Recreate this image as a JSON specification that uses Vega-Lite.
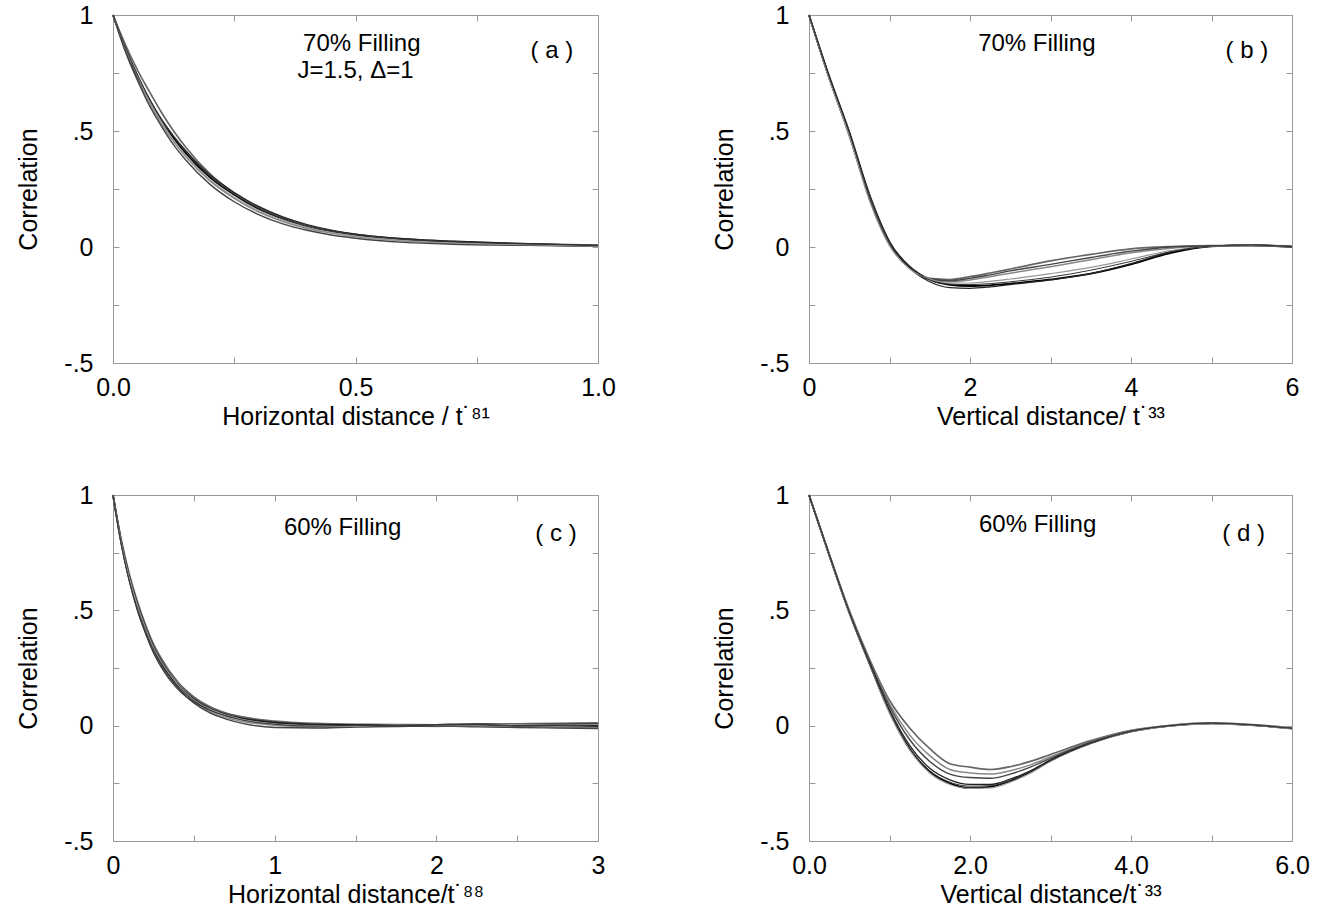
{
"$schema":"https://vega.github.io/schema/vega-lite/v6.json",
"padding":{"left":16,"top":2,"right":10,"bottom":5},
"background":"white",
"spacing":52,
"config":{
 "font":"Liberation Sans",
 "view":{"stroke":"#999","strokeWidth":1},
 "axis":{"domain":false,"grid":false,"ticks":true,"tickSize":-6,"tickColor":"#999","labelColor":"#000","labelFontSize":25,"labelFont":"Liberation Sans","titleFont":"Liberation Sans","titleFontSize":25,"titleFontWeight":"normal","titleColor":"#000","labelFlush":false,"labelOverlap":false},
 "axisY":{"labelPadding":26,"titlePadding":22},
 "axisX":{"labelPadding":18,"titlePadding":4},
 "text":{"font":"Liberation Sans","fontSize":24,"color":"#000"}
},
"datasets":{
"a":[
{"s":1,"x":0,"y":1},{"s":1,"x":0.025,"y":0.86},{"s":1,"x":0.05,"y":0.74},{"s":1,"x":0.075,"y":0.635},{"s":1,"x":0.1,"y":0.545},{"s":1,"x":0.125,"y":0.47},{"s":1,"x":0.15,"y":0.405},{"s":1,"x":0.2,"y":0.3},{"s":1,"x":0.25,"y":0.225},{"s":1,"x":0.3,"y":0.165},{"s":1,"x":0.35,"y":0.122},{"s":1,"x":0.4,"y":0.09},{"s":1,"x":0.45,"y":0.068},{"s":1,"x":0.5,"y":0.052},{"s":1,"x":0.6,"y":0.032},{"s":1,"x":0.7,"y":0.022},{"s":1,"x":0.8,"y":0.015},{"s":1,"x":0.9,"y":0.01},{"s":1,"x":1.0,"y":0.005},
{"s":2,"x":0,"y":1},{"s":2,"x":0.025,"y":0.875},{"s":2,"x":0.05,"y":0.765},{"s":2,"x":0.075,"y":0.67},{"s":2,"x":0.1,"y":0.58},{"s":2,"x":0.125,"y":0.5},{"s":2,"x":0.15,"y":0.43},{"s":2,"x":0.2,"y":0.315},{"s":2,"x":0.25,"y":0.232},{"s":2,"x":0.3,"y":0.17},{"s":2,"x":0.35,"y":0.125},{"s":2,"x":0.4,"y":0.092},{"s":2,"x":0.45,"y":0.07},{"s":2,"x":0.5,"y":0.055},{"s":2,"x":0.6,"y":0.035},{"s":2,"x":0.7,"y":0.024},{"s":2,"x":0.8,"y":0.017},{"s":2,"x":0.9,"y":0.012},{"s":2,"x":1.0,"y":0.008},
{"s":3,"x":0,"y":1},{"s":3,"x":0.025,"y":0.85},{"s":3,"x":0.05,"y":0.725},{"s":3,"x":0.075,"y":0.62},{"s":3,"x":0.1,"y":0.53},{"s":3,"x":0.125,"y":0.455},{"s":3,"x":0.15,"y":0.39},{"s":3,"x":0.2,"y":0.285},{"s":3,"x":0.25,"y":0.21},{"s":3,"x":0.3,"y":0.152},{"s":3,"x":0.35,"y":0.11},{"s":3,"x":0.4,"y":0.08},{"s":3,"x":0.45,"y":0.06},{"s":3,"x":0.5,"y":0.045},{"s":3,"x":0.6,"y":0.026},{"s":3,"x":0.7,"y":0.016},{"s":3,"x":0.8,"y":0.01},{"s":3,"x":0.9,"y":0.007},{"s":3,"x":1.0,"y":0.004},
{"s":4,"x":0,"y":1},{"s":4,"x":0.025,"y":0.845},{"s":4,"x":0.05,"y":0.72},{"s":4,"x":0.075,"y":0.61},{"s":4,"x":0.1,"y":0.52},{"s":4,"x":0.125,"y":0.44},{"s":4,"x":0.15,"y":0.375},{"s":4,"x":0.2,"y":0.27},{"s":4,"x":0.25,"y":0.195},{"s":4,"x":0.3,"y":0.14},{"s":4,"x":0.35,"y":0.1},{"s":4,"x":0.4,"y":0.072},{"s":4,"x":0.45,"y":0.052},{"s":4,"x":0.5,"y":0.038},{"s":4,"x":0.6,"y":0.02},{"s":4,"x":0.7,"y":0.012},{"s":4,"x":0.8,"y":0.008},{"s":4,"x":0.9,"y":0.006},{"s":4,"x":1.0,"y":0.003},
{"s":5,"x":0,"y":1},{"s":5,"x":0.025,"y":0.855},{"s":5,"x":0.05,"y":0.735},{"s":5,"x":0.075,"y":0.635},{"s":5,"x":0.1,"y":0.55},{"s":5,"x":0.125,"y":0.478},{"s":5,"x":0.15,"y":0.415},{"s":5,"x":0.2,"y":0.31},{"s":5,"x":0.25,"y":0.235},{"s":5,"x":0.3,"y":0.175},{"s":5,"x":0.35,"y":0.13},{"s":5,"x":0.4,"y":0.097},{"s":5,"x":0.45,"y":0.073},{"s":5,"x":0.5,"y":0.056},{"s":5,"x":0.6,"y":0.036},{"s":5,"x":0.7,"y":0.025},{"s":5,"x":0.8,"y":0.018},{"s":5,"x":0.9,"y":0.012},{"s":5,"x":1.0,"y":0.007},
{"s":6,"x":0,"y":1},{"s":6,"x":0.025,"y":0.86},{"s":6,"x":0.05,"y":0.74},{"s":6,"x":0.075,"y":0.63},{"s":6,"x":0.1,"y":0.54},{"s":6,"x":0.125,"y":0.46},{"s":6,"x":0.15,"y":0.395},{"s":6,"x":0.2,"y":0.29},{"s":6,"x":0.25,"y":0.215},{"s":6,"x":0.3,"y":0.158},{"s":6,"x":0.35,"y":0.115},{"s":6,"x":0.4,"y":0.084},{"s":6,"x":0.45,"y":0.062},{"s":6,"x":0.5,"y":0.047},{"s":6,"x":0.6,"y":0.028},{"s":6,"x":0.7,"y":0.018},{"s":6,"x":0.8,"y":0.012},{"s":6,"x":0.9,"y":0.008},{"s":6,"x":1.0,"y":0.003},
{"s":7,"x":0,"y":1},{"s":7,"x":0.025,"y":0.865},{"s":7,"x":0.05,"y":0.745},{"s":7,"x":0.075,"y":0.64},{"s":7,"x":0.1,"y":0.55},{"s":7,"x":0.125,"y":0.475},{"s":7,"x":0.15,"y":0.41},{"s":7,"x":0.2,"y":0.305},{"s":7,"x":0.25,"y":0.228},{"s":7,"x":0.3,"y":0.168},{"s":7,"x":0.35,"y":0.124},{"s":7,"x":0.4,"y":0.092},{"s":7,"x":0.45,"y":0.07},{"s":7,"x":0.5,"y":0.054},{"s":7,"x":0.6,"y":0.034},{"s":7,"x":0.7,"y":0.023},{"s":7,"x":0.8,"y":0.016},{"s":7,"x":0.9,"y":0.011},{"s":7,"x":1.0,"y":0.006}
],
"b":[
{"s":1,"x":0,"y":1},{"s":1,"x":0.25,"y":0.73},{"s":1,"x":0.5,"y":0.49},{"s":1,"x":0.75,"y":0.22},{"s":1,"x":1,"y":0.02},{"s":1,"x":1.25,"y":-0.085},{"s":1,"x":1.5,"y":-0.14},{"s":1,"x":1.75,"y":-0.163},{"s":1,"x":2,"y":-0.168},{"s":1,"x":2.25,"y":-0.165},{"s":1,"x":2.5,"y":-0.158},{"s":1,"x":3,"y":-0.14},{"s":1,"x":3.5,"y":-0.115},{"s":1,"x":4,"y":-0.075},{"s":1,"x":4.5,"y":-0.025},{"s":1,"x":5,"y":0.003},{"s":1,"x":5.5,"y":0.008},{"s":1,"x":6,"y":0.002},
{"s":2,"x":0,"y":1},{"s":2,"x":0.25,"y":0.73},{"s":2,"x":0.5,"y":0.48},{"s":2,"x":0.75,"y":0.21},{"s":2,"x":1,"y":0.01},{"s":2,"x":1.25,"y":-0.09},{"s":2,"x":1.5,"y":-0.135},{"s":2,"x":1.75,"y":-0.14},{"s":2,"x":2,"y":-0.128},{"s":2,"x":2.25,"y":-0.112},{"s":2,"x":2.5,"y":-0.095},{"s":2,"x":3,"y":-0.06},{"s":2,"x":3.5,"y":-0.032},{"s":2,"x":4,"y":-0.008},{"s":2,"x":4.5,"y":0.002},{"s":2,"x":5,"y":0.006},{"s":2,"x":5.5,"y":0.006},{"s":2,"x":6,"y":0},
{"s":3,"x":0,"y":1},{"s":3,"x":0.25,"y":0.735},{"s":3,"x":0.5,"y":0.49},{"s":3,"x":0.75,"y":0.215},{"s":3,"x":1,"y":0.015},{"s":3,"x":1.25,"y":-0.09},{"s":3,"x":1.5,"y":-0.14},{"s":3,"x":1.75,"y":-0.15},{"s":3,"x":2,"y":-0.142},{"s":3,"x":2.25,"y":-0.128},{"s":3,"x":2.5,"y":-0.113},{"s":3,"x":3,"y":-0.085},{"s":3,"x":3.5,"y":-0.055},{"s":3,"x":4,"y":-0.025},{"s":3,"x":4.5,"y":-0.005},{"s":3,"x":5,"y":0.004},{"s":3,"x":5.5,"y":0.007},{"s":3,"x":6,"y":0.001},
{"s":4,"x":0,"y":1},{"s":4,"x":0.25,"y":0.73},{"s":4,"x":0.5,"y":0.485},{"s":4,"x":0.75,"y":0.21},{"s":4,"x":1,"y":0.012},{"s":4,"x":1.25,"y":-0.088},{"s":4,"x":1.5,"y":-0.138},{"s":4,"x":1.75,"y":-0.145},{"s":4,"x":2,"y":-0.135},{"s":4,"x":2.25,"y":-0.12},{"s":4,"x":2.5,"y":-0.103},{"s":4,"x":3,"y":-0.075},{"s":4,"x":3.5,"y":-0.045},{"s":4,"x":4,"y":-0.018},{"s":4,"x":4.5,"y":0},{"s":4,"x":5,"y":0.005},{"s":4,"x":5.5,"y":0.006},{"s":4,"x":6,"y":0},
{"s":5,"x":0,"y":1},{"s":5,"x":0.25,"y":0.74},{"s":5,"x":0.5,"y":0.5},{"s":5,"x":0.75,"y":0.23},{"s":5,"x":1,"y":0.025},{"s":5,"x":1.25,"y":-0.09},{"s":5,"x":1.5,"y":-0.15},{"s":5,"x":1.75,"y":-0.175},{"s":5,"x":2,"y":-0.178},{"s":5,"x":2.25,"y":-0.172},{"s":5,"x":2.5,"y":-0.162},{"s":5,"x":3,"y":-0.142},{"s":5,"x":3.5,"y":-0.115},{"s":5,"x":4,"y":-0.072},{"s":5,"x":4.5,"y":-0.02},{"s":5,"x":5,"y":0.004},{"s":5,"x":5.5,"y":0.008},{"s":5,"x":6,"y":0.003},
{"s":6,"x":0,"y":1},{"s":6,"x":0.25,"y":0.725},{"s":6,"x":0.5,"y":0.48},{"s":6,"x":0.75,"y":0.2},{"s":6,"x":1,"y":0.005},{"s":6,"x":1.25,"y":-0.095},{"s":6,"x":1.5,"y":-0.138},{"s":6,"x":1.75,"y":-0.155},{"s":6,"x":2,"y":-0.155},{"s":6,"x":2.25,"y":-0.148},{"s":6,"x":2.5,"y":-0.138},{"s":6,"x":3,"y":-0.115},{"s":6,"x":3.5,"y":-0.088},{"s":6,"x":4,"y":-0.052},{"s":6,"x":4.5,"y":-0.015},{"s":6,"x":5,"y":0.003},{"s":6,"x":5.5,"y":0.007},{"s":6,"x":6,"y":0.002},
{"s":7,"x":0,"y":1},{"s":7,"x":0.25,"y":0.735},{"s":7,"x":0.5,"y":0.495},{"s":7,"x":0.75,"y":0.225},{"s":7,"x":1,"y":0.02},{"s":7,"x":1.25,"y":-0.085},{"s":7,"x":1.5,"y":-0.142},{"s":7,"x":1.75,"y":-0.16},{"s":7,"x":2,"y":-0.162},{"s":7,"x":2.25,"y":-0.158},{"s":7,"x":2.5,"y":-0.15},{"s":7,"x":3,"y":-0.13},{"s":7,"x":3.5,"y":-0.1},{"s":7,"x":4,"y":-0.062},{"s":7,"x":4.5,"y":-0.02},{"s":7,"x":5,"y":0.004},{"s":7,"x":5.5,"y":0.008},{"s":7,"x":6,"y":0.002}
],
"c":[
{"s":1,"x":0,"y":1},{"s":1,"x":0.05,"y":0.8},{"s":1,"x":0.1,"y":0.64},{"s":1,"x":0.15,"y":0.52},{"s":1,"x":0.2,"y":0.42},{"s":1,"x":0.25,"y":0.335},{"s":1,"x":0.3,"y":0.27},{"s":1,"x":0.4,"y":0.175},{"s":1,"x":0.5,"y":0.11},{"s":1,"x":0.6,"y":0.07},{"s":1,"x":0.7,"y":0.045},{"s":1,"x":0.8,"y":0.03},{"s":1,"x":1,"y":0.012},{"s":1,"x":1.25,"y":0.005},{"s":1,"x":1.5,"y":0.003},{"s":1,"x":1.75,"y":0.002},{"s":1,"x":2,"y":0},{"s":1,"x":2.25,"y":0.003},{"s":1,"x":2.5,"y":0.002},{"s":1,"x":2.75,"y":0.001},{"s":1,"x":3,"y":0},
{"s":2,"x":0,"y":1},{"s":2,"x":0.05,"y":0.81},{"s":2,"x":0.1,"y":0.66},{"s":2,"x":0.15,"y":0.54},{"s":2,"x":0.2,"y":0.44},{"s":2,"x":0.25,"y":0.355},{"s":2,"x":0.3,"y":0.29},{"s":2,"x":0.4,"y":0.19},{"s":2,"x":0.5,"y":0.125},{"s":2,"x":0.6,"y":0.082},{"s":2,"x":0.7,"y":0.055},{"s":2,"x":0.8,"y":0.038},{"s":2,"x":1,"y":0.02},{"s":2,"x":1.25,"y":0.01},{"s":2,"x":1.5,"y":0.006},{"s":2,"x":1.75,"y":0.005},{"s":2,"x":2,"y":0.004},{"s":2,"x":2.25,"y":0.006},{"s":2,"x":2.5,"y":0.008},{"s":2,"x":2.75,"y":0.01},{"s":2,"x":3,"y":0.012},
{"s":3,"x":0,"y":1},{"s":3,"x":0.05,"y":0.79},{"s":3,"x":0.1,"y":0.63},{"s":3,"x":0.15,"y":0.505},{"s":3,"x":0.2,"y":0.405},{"s":3,"x":0.25,"y":0.32},{"s":3,"x":0.3,"y":0.255},{"s":3,"x":0.4,"y":0.16},{"s":3,"x":0.5,"y":0.1},{"s":3,"x":0.6,"y":0.06},{"s":3,"x":0.7,"y":0.035},{"s":3,"x":0.8,"y":0.018},{"s":3,"x":1,"y":0.002},{"s":3,"x":1.25,"y":-0.005},{"s":3,"x":1.5,"y":-0.004},{"s":3,"x":1.75,"y":0},{"s":3,"x":2,"y":-0.003},{"s":3,"x":2.25,"y":0.002},{"s":3,"x":2.5,"y":-0.003},{"s":3,"x":2.75,"y":-0.006},{"s":3,"x":3,"y":-0.008},
{"s":4,"x":0,"y":1},{"s":4,"x":0.05,"y":0.795},{"s":4,"x":0.1,"y":0.635},{"s":4,"x":0.15,"y":0.51},{"s":4,"x":0.2,"y":0.41},{"s":4,"x":0.25,"y":0.325},{"s":4,"x":0.3,"y":0.26},{"s":4,"x":0.4,"y":0.165},{"s":4,"x":0.5,"y":0.098},{"s":4,"x":0.6,"y":0.055},{"s":4,"x":0.7,"y":0.028},{"s":4,"x":0.8,"y":0.01},{"s":4,"x":1,"y":-0.008},{"s":4,"x":1.25,"y":-0.01},{"s":4,"x":1.5,"y":-0.006},{"s":4,"x":1.75,"y":-0.004},{"s":4,"x":2,"y":-0.002},{"s":4,"x":2.25,"y":-0.005},{"s":4,"x":2.5,"y":-0.008},{"s":4,"x":2.75,"y":-0.01},{"s":4,"x":3,"y":-0.012},
{"s":5,"x":0,"y":1},{"s":5,"x":0.05,"y":0.805},{"s":5,"x":0.1,"y":0.65},{"s":5,"x":0.15,"y":0.53},{"s":5,"x":0.2,"y":0.43},{"s":5,"x":0.25,"y":0.345},{"s":5,"x":0.3,"y":0.28},{"s":5,"x":0.4,"y":0.18},{"s":5,"x":0.5,"y":0.118},{"s":5,"x":0.6,"y":0.076},{"s":5,"x":0.7,"y":0.05},{"s":5,"x":0.8,"y":0.033},{"s":5,"x":1,"y":0.015},{"s":5,"x":1.25,"y":0.006},{"s":5,"x":1.5,"y":0.004},{"s":5,"x":1.75,"y":0.002},{"s":5,"x":2,"y":0.005},{"s":5,"x":2.25,"y":0.008},{"s":5,"x":2.5,"y":0.004},{"s":5,"x":2.75,"y":0.006},{"s":5,"x":3,"y":0.008},
{"s":6,"x":0,"y":1},{"s":6,"x":0.05,"y":0.8},{"s":6,"x":0.1,"y":0.645},{"s":6,"x":0.15,"y":0.525},{"s":6,"x":0.2,"y":0.425},{"s":6,"x":0.25,"y":0.34},{"s":6,"x":0.3,"y":0.275},{"s":6,"x":0.4,"y":0.178},{"s":6,"x":0.5,"y":0.112},{"s":6,"x":0.6,"y":0.072},{"s":6,"x":0.7,"y":0.046},{"s":6,"x":0.8,"y":0.028},{"s":6,"x":1,"y":0.008},{"s":6,"x":1.25,"y":0},{"s":6,"x":1.5,"y":-0.002},{"s":6,"x":1.75,"y":0.003},{"s":6,"x":2,"y":0.001},{"s":6,"x":2.25,"y":0},{"s":6,"x":2.5,"y":0.005},{"s":6,"x":2.75,"y":0.003},{"s":6,"x":3,"y":0.004},
{"s":7,"x":0,"y":1},{"s":7,"x":0.05,"y":0.79},{"s":7,"x":0.1,"y":0.628},{"s":7,"x":0.15,"y":0.5},{"s":7,"x":0.2,"y":0.4},{"s":7,"x":0.25,"y":0.315},{"s":7,"x":0.3,"y":0.25},{"s":7,"x":0.4,"y":0.158},{"s":7,"x":0.5,"y":0.104},{"s":7,"x":0.6,"y":0.066},{"s":7,"x":0.7,"y":0.042},{"s":7,"x":0.8,"y":0.024},{"s":7,"x":1,"y":0.006},{"s":7,"x":1.25,"y":-0.002},{"s":7,"x":1.5,"y":0.002},{"s":7,"x":1.75,"y":0},{"s":7,"x":2,"y":0.002},{"s":7,"x":2.25,"y":0.004},{"s":7,"x":2.5,"y":-0.002},{"s":7,"x":2.75,"y":0},{"s":7,"x":3,"y":-0.004}
],
"d":[
{"s":1,"x":0,"y":1},{"s":1,"x":0.25,"y":0.74},{"s":1,"x":0.5,"y":0.49},{"s":1,"x":0.75,"y":0.27},{"s":1,"x":1,"y":0.06},{"s":1,"x":1.25,"y":-0.1},{"s":1,"x":1.5,"y":-0.2},{"s":1,"x":1.75,"y":-0.25},{"s":1,"x":2,"y":-0.27},{"s":1,"x":2.25,"y":-0.265},{"s":1,"x":2.5,"y":-0.24},{"s":1,"x":2.75,"y":-0.2},{"s":1,"x":3,"y":-0.15},{"s":1,"x":3.5,"y":-0.075},{"s":1,"x":4,"y":-0.025},{"s":1,"x":4.5,"y":0},{"s":1,"x":5,"y":0.01},{"s":1,"x":5.5,"y":0.002},{"s":1,"x":6,"y":-0.012},
{"s":2,"x":0,"y":1},{"s":2,"x":0.25,"y":0.745},{"s":2,"x":0.5,"y":0.5},{"s":2,"x":0.75,"y":0.29},{"s":2,"x":1,"y":0.11},{"s":2,"x":1.25,"y":-0.01},{"s":2,"x":1.5,"y":-0.1},{"s":2,"x":1.75,"y":-0.165},{"s":2,"x":2,"y":-0.18},{"s":2,"x":2.25,"y":-0.19},{"s":2,"x":2.5,"y":-0.178},{"s":2,"x":2.75,"y":-0.155},{"s":2,"x":3,"y":-0.125},{"s":2,"x":3.5,"y":-0.065},{"s":2,"x":4,"y":-0.02},{"s":2,"x":4.5,"y":0.002},{"s":2,"x":5,"y":0.012},{"s":2,"x":5.5,"y":0.005},{"s":2,"x":6,"y":-0.01},
{"s":3,"x":0,"y":1},{"s":3,"x":0.25,"y":0.745},{"s":3,"x":0.5,"y":0.495},{"s":3,"x":0.75,"y":0.285},{"s":3,"x":1,"y":0.095},{"s":3,"x":1.25,"y":-0.04},{"s":3,"x":1.5,"y":-0.13},{"s":3,"x":1.75,"y":-0.19},{"s":3,"x":2,"y":-0.205},{"s":3,"x":2.25,"y":-0.21},{"s":3,"x":2.5,"y":-0.195},{"s":3,"x":2.75,"y":-0.17},{"s":3,"x":3,"y":-0.135},{"s":3,"x":3.5,"y":-0.07},{"s":3,"x":4,"y":-0.022},{"s":3,"x":4.5,"y":0.002},{"s":3,"x":5,"y":0.012},{"s":3,"x":5.5,"y":0.004},{"s":3,"x":6,"y":-0.01},
{"s":4,"x":0,"y":1},{"s":4,"x":0.25,"y":0.742},{"s":4,"x":0.5,"y":0.493},{"s":4,"x":0.75,"y":0.28},{"s":4,"x":1,"y":0.085},{"s":4,"x":1.25,"y":-0.06},{"s":4,"x":1.5,"y":-0.155},{"s":4,"x":1.75,"y":-0.21},{"s":4,"x":2,"y":-0.225},{"s":4,"x":2.25,"y":-0.228},{"s":4,"x":2.5,"y":-0.21},{"s":4,"x":2.75,"y":-0.18},{"s":4,"x":3,"y":-0.142},{"s":4,"x":3.5,"y":-0.072},{"s":4,"x":4,"y":-0.024},{"s":4,"x":4.5,"y":0},{"s":4,"x":5,"y":0.01},{"s":4,"x":5.5,"y":0.003},{"s":4,"x":6,"y":-0.012},
{"s":5,"x":0,"y":1},{"s":5,"x":0.25,"y":0.74},{"s":5,"x":0.5,"y":0.49},{"s":5,"x":0.75,"y":0.275},{"s":5,"x":1,"y":0.07},{"s":5,"x":1.25,"y":-0.085},{"s":5,"x":1.5,"y":-0.185},{"s":5,"x":1.75,"y":-0.235},{"s":5,"x":2,"y":-0.255},{"s":5,"x":2.25,"y":-0.255},{"s":5,"x":2.5,"y":-0.232},{"s":5,"x":2.75,"y":-0.196},{"s":5,"x":3,"y":-0.15},{"s":5,"x":3.5,"y":-0.076},{"s":5,"x":4,"y":-0.026},{"s":5,"x":4.5,"y":-0.001},{"s":5,"x":5,"y":0.01},{"s":5,"x":5.5,"y":0.002},{"s":5,"x":6,"y":-0.013},
{"s":6,"x":0,"y":1},{"s":6,"x":0.25,"y":0.738},{"s":6,"x":0.5,"y":0.488},{"s":6,"x":0.75,"y":0.268},{"s":6,"x":1,"y":0.055},{"s":6,"x":1.25,"y":-0.105},{"s":6,"x":1.5,"y":-0.205},{"s":6,"x":1.75,"y":-0.255},{"s":6,"x":2,"y":-0.272},{"s":6,"x":2.25,"y":-0.27},{"s":6,"x":2.5,"y":-0.245},{"s":6,"x":2.75,"y":-0.206},{"s":6,"x":3,"y":-0.155},{"s":6,"x":3.5,"y":-0.078},{"s":6,"x":4,"y":-0.027},{"s":6,"x":4.5,"y":-0.002},{"s":6,"x":5,"y":0.008},{"s":6,"x":5.5,"y":0.001},{"s":6,"x":6,"y":-0.014},
{"s":7,"x":0,"y":1},{"s":7,"x":0.25,"y":0.742},{"s":7,"x":0.5,"y":0.492},{"s":7,"x":0.75,"y":0.272},{"s":7,"x":1,"y":0.065},{"s":7,"x":1.25,"y":-0.095},{"s":7,"x":1.5,"y":-0.195},{"s":7,"x":1.75,"y":-0.245},{"s":7,"x":2,"y":-0.262},{"s":7,"x":2.25,"y":-0.26},{"s":7,"x":2.5,"y":-0.238},{"s":7,"x":2.75,"y":-0.2},{"s":7,"x":3,"y":-0.152},{"s":7,"x":3.5,"y":-0.077},{"s":7,"x":4,"y":-0.025},{"s":7,"x":4.5,"y":0},{"s":7,"x":5,"y":0.011},{"s":7,"x":5.5,"y":0.003},{"s":7,"x":6,"y":-0.012}
]
},
"vconcat":[
{"hconcat":[
 {"width":485,"height":348,
  "resolve":{"axis":{"x":"independent","y":"independent"}},
  "layer":[
   {"data":{"name":"a"},"mark":{"type":"line","interpolate":"monotone"},
    "encoding":{
     "x":{"field":"x","type":"quantitative","scale":{"domain":[0,1],"nice":false},"axis":{"values":[0,0.25,0.5,0.75,1],"labelExpr":"datum.value % 0.5 == 0 ? format(datum.value, '.1f') : ''","title":"Horizontal distance / t˙⁸¹"}},
     "y":{"field":"y","type":"quantitative","scale":{"domain":[-0.5,1],"nice":false},"axis":{"values":[-0.5,-0.25,0,0.25,0.5,0.75,1],"labelExpr":"datum.value==1?'1':datum.value==0.5?'.5':datum.value==0?'0':datum.value==-0.5?'-.5':''","title":"Correlation"}},
     "color":{"field":"s","type":"nominal","scale":{"domain":[1,2,3,4,5,6,7],"range":["#000","#666","#888","#444","#222","#999","#333"]},"legend":null},
     "size":{"field":"s","type":"nominal","scale":{"domain":[1,2,3,4,5,6,7],"range":[1.8,1,1,1,1.3,1,1.2]},"legend":null}}},
   {"data":{"values":[{"x":0.513,"y":0.875,"t":"70% Filling"},{"x":0.5,"y":0.76,"t":"J=1.5, Δ=1"},{"x":0.905,"y":0.845,"t":"( a )"}]},
    "mark":{"type":"text"},
    "encoding":{"x":{"field":"x","type":"quantitative","axis":{"orient":"top","values":[0,0.25,0.5,0.75,1],"labels":false,"title":null}},"y":{"field":"y","type":"quantitative","axis":{"orient":"right","values":[-0.5,-0.25,0,0.25,0.5,0.75,1],"labels":false,"title":null}},"text":{"field":"t"}}}
  ]},
 {"width":483,"height":348,
  "resolve":{"axis":{"x":"independent","y":"independent"}},
  "layer":[
   {"data":{"name":"b"},"mark":{"type":"line","interpolate":"monotone"},
    "encoding":{
     "x":{"field":"x","type":"quantitative","scale":{"domain":[0,6],"nice":false},"axis":{"values":[0,1,2,3,4,5,6],"labelExpr":"datum.value % 2 == 0 ? format(datum.value, 'd') : ''","title":"Vertical distance/ t˙³³"}},
     "y":{"field":"y","type":"quantitative","scale":{"domain":[-0.5,1],"nice":false},"axis":{"values":[-0.5,-0.25,0,0.25,0.5,0.75,1],"labelExpr":"datum.value==1?'1':datum.value==0.5?'.5':datum.value==0?'0':datum.value==-0.5?'-.5':''","title":"Correlation"}},
     "color":{"field":"s","type":"nominal","scale":{"domain":[1,2,3,4,5,6,7],"range":["#000","#666","#888","#444","#222","#999","#333"]},"legend":null},
     "size":{"field":"s","type":"nominal","scale":{"domain":[1,2,3,4,5,6,7],"range":[1.8,1,1,1,1.3,1,1.2]},"legend":null}}},
   {"data":{"values":[{"x":2.83,"y":0.875,"t":"70% Filling"},{"x":5.44,"y":0.845,"t":"( b )"}]},
    "mark":{"type":"text"},
    "encoding":{"x":{"field":"x","type":"quantitative","axis":{"orient":"top","values":[0,1,2,3,4,5,6],"labels":false,"title":null}},"y":{"field":"y","type":"quantitative","axis":{"orient":"right","values":[-0.5,-0.25,0,0.25,0.5,0.75,1],"labels":false,"title":null}},"text":{"field":"t"}}}
  ]}
 ],"spacing":211,"bounds":"flush"},
{"hconcat":[
 {"width":485,"height":346,
  "resolve":{"axis":{"x":"independent","y":"independent"}},
  "layer":[
   {"data":{"name":"c"},"mark":{"type":"line","interpolate":"monotone"},
    "encoding":{
     "x":{"field":"x","type":"quantitative","scale":{"domain":[0,3],"nice":false},"axis":{"values":[0,0.5,1,1.5,2,2.5,3],"labelExpr":"datum.value % 1 == 0 ? format(datum.value, 'd') : ''","title":"Horizontal distance/t˙⁸⁸"}},
     "y":{"field":"y","type":"quantitative","scale":{"domain":[-0.5,1],"nice":false},"axis":{"values":[-0.5,-0.25,0,0.25,0.5,0.75,1],"labelExpr":"datum.value==1?'1':datum.value==0.5?'.5':datum.value==0?'0':datum.value==-0.5?'-.5':''","title":"Correlation"}},
     "color":{"field":"s","type":"nominal","scale":{"domain":[1,2,3,4,5,6,7],"range":["#000","#666","#888","#444","#222","#999","#333"]},"legend":null},
     "size":{"field":"s","type":"nominal","scale":{"domain":[1,2,3,4,5,6,7],"range":[1.8,1,1,1,1.3,1,1.2]},"legend":null}}},
   {"data":{"values":[{"x":1.42,"y":0.855,"t":"60% Filling"},{"x":2.74,"y":0.83,"t":"( c )"}]},
    "mark":{"type":"text"},
    "encoding":{"x":{"field":"x","type":"quantitative","axis":{"orient":"top","values":[0,0.5,1,1.5,2,2.5,3],"labels":false,"title":null}},"y":{"field":"y","type":"quantitative","axis":{"orient":"right","values":[-0.5,-0.25,0,0.25,0.5,0.75,1],"labels":false,"title":null}},"text":{"field":"t"}}}
  ]},
 {"width":483,"height":346,
  "resolve":{"axis":{"x":"independent","y":"independent"}},
  "layer":[
   {"data":{"name":"d"},"mark":{"type":"line","interpolate":"monotone"},
    "encoding":{
     "x":{"field":"x","type":"quantitative","scale":{"domain":[0,6],"nice":false},"axis":{"values":[0,1,2,3,4,5,6],"labelExpr":"datum.value % 2 == 0 ? format(datum.value, '.1f') : ''","title":"Vertical distance/t˙³³"}},
     "y":{"field":"y","type":"quantitative","scale":{"domain":[-0.5,1],"nice":false},"axis":{"values":[-0.5,-0.25,0,0.25,0.5,0.75,1],"labelExpr":"datum.value==1?'1':datum.value==0.5?'.5':datum.value==0?'0':datum.value==-0.5?'-.5':''","title":"Correlation"}},
     "color":{"field":"s","type":"nominal","scale":{"domain":[1,2,3,4,5,6,7],"range":["#000","#666","#888","#444","#222","#999","#333"]},"legend":null},
     "size":{"field":"s","type":"nominal","scale":{"domain":[1,2,3,4,5,6,7],"range":[1.8,1,1,1,1.3,1,1.2]},"legend":null}}},
   {"data":{"values":[{"x":2.84,"y":0.87,"t":"60% Filling"},{"x":5.4,"y":0.83,"t":"( d )"}]},
    "mark":{"type":"text"},
    "encoding":{"x":{"field":"x","type":"quantitative","axis":{"orient":"top","values":[0,1,2,3,4,5,6],"labels":false,"title":null}},"y":{"field":"y","type":"quantitative","axis":{"orient":"right","values":[-0.5,-0.25,0,0.25,0.5,0.75,1],"labels":false,"title":null}},"text":{"field":"t"}}}
  ]}
 ],"spacing":211,"bounds":"flush"}
]
}
